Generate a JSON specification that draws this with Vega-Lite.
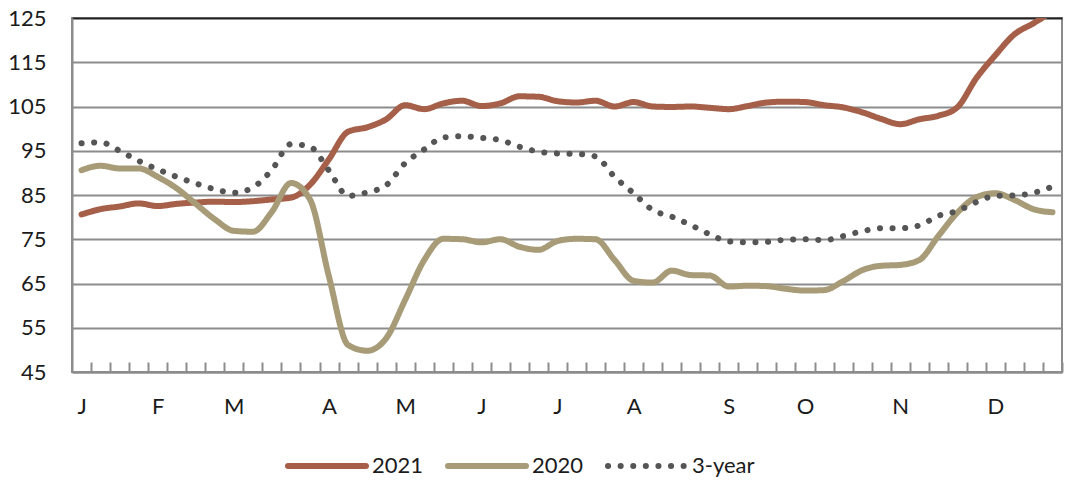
{
  "$schema": "https://vega.github.io/schema/vega-lite/v6.json",
  "width": 990,
  "height": 354,
  "autosize": "none",
  "padding": {"left": 72, "top": 18, "right": 12, "bottom": 124},
  "config": {
    "font": "Lato",
    "view": {"stroke": "#8c8c8c", "strokeWidth": 2},
    "axis": {"labelFont": "Lato", "labelFontSize": 22, "labelColor": "#1b1b1b"}
  },
  "data": {
    "values": [
      {"week": 1, "series": "2021", "value": 80.6},
      {"week": 2, "series": "2021", "value": 81.8},
      {"week": 3, "series": "2021", "value": 82.4},
      {"week": 4, "series": "2021", "value": 83.1},
      {"week": 5, "series": "2021", "value": 82.5},
      {"week": 6, "series": "2021", "value": 83.0},
      {"week": 7, "series": "2021", "value": 83.3},
      {"week": 8, "series": "2021", "value": 83.5},
      {"week": 9, "series": "2021", "value": 83.4},
      {"week": 10, "series": "2021", "value": 83.6},
      {"week": 11, "series": "2021", "value": 84.0},
      {"week": 12, "series": "2021", "value": 84.4},
      {"week": 13, "series": "2021", "value": 87.3},
      {"week": 14, "series": "2021", "value": 93.1},
      {"week": 15, "series": "2021", "value": 99.3},
      {"week": 16, "series": "2021", "value": 100.3},
      {"week": 17, "series": "2021", "value": 102.1},
      {"week": 18, "series": "2021", "value": 105.3},
      {"week": 19, "series": "2021", "value": 104.4},
      {"week": 20, "series": "2021", "value": 105.7},
      {"week": 21, "series": "2021", "value": 106.3},
      {"week": 22, "series": "2021", "value": 105.1},
      {"week": 23, "series": "2021", "value": 105.7},
      {"week": 24, "series": "2021", "value": 107.3},
      {"week": 25, "series": "2021", "value": 107.2},
      {"week": 26, "series": "2021", "value": 106.2},
      {"week": 27, "series": "2021", "value": 105.9},
      {"week": 28, "series": "2021", "value": 106.3},
      {"week": 29, "series": "2021", "value": 105.0},
      {"week": 30, "series": "2021", "value": 106.0},
      {"week": 31, "series": "2021", "value": 105.0},
      {"week": 32, "series": "2021", "value": 104.9},
      {"week": 33, "series": "2021", "value": 105.0},
      {"week": 34, "series": "2021", "value": 104.7},
      {"week": 35, "series": "2021", "value": 104.4},
      {"week": 36, "series": "2021", "value": 105.1},
      {"week": 37, "series": "2021", "value": 105.9},
      {"week": 38, "series": "2021", "value": 106.1},
      {"week": 39, "series": "2021", "value": 106.0},
      {"week": 40, "series": "2021", "value": 105.3},
      {"week": 41, "series": "2021", "value": 104.8},
      {"week": 42, "series": "2021", "value": 103.7},
      {"week": 43, "series": "2021", "value": 102.2},
      {"week": 44, "series": "2021", "value": 101.0},
      {"week": 45, "series": "2021", "value": 102.1},
      {"week": 46, "series": "2021", "value": 102.9},
      {"week": 47, "series": "2021", "value": 104.8},
      {"week": 48, "series": "2021", "value": 111.4},
      {"week": 49, "series": "2021", "value": 116.6},
      {"week": 50, "series": "2021", "value": 121.3},
      {"week": 51, "series": "2021", "value": 123.8},
      {"week": 52, "series": "2021", "value": 126.5},
      {"week": 1, "series": "2020", "value": 90.6},
      {"week": 2, "series": "2020", "value": 91.6},
      {"week": 3, "series": "2020", "value": 91.0},
      {"week": 4, "series": "2020", "value": 91.0},
      {"week": 5, "series": "2020", "value": 89.1},
      {"week": 6, "series": "2020", "value": 86.5},
      {"week": 7, "series": "2020", "value": 83.0},
      {"week": 8, "series": "2020", "value": 79.5},
      {"week": 9, "series": "2020", "value": 76.9},
      {"week": 10, "series": "2020", "value": 76.7},
      {"week": 11, "series": "2020", "value": 81.2},
      {"week": 12, "series": "2020", "value": 87.7},
      {"week": 13, "series": "2020", "value": 84.0},
      {"week": 14, "series": "2020", "value": 66.5},
      {"week": 15, "series": "2020", "value": 51.1},
      {"week": 16, "series": "2020", "value": 49.8},
      {"week": 17, "series": "2020", "value": 52.6},
      {"week": 18, "series": "2020", "value": 61.3},
      {"week": 19, "series": "2020", "value": 70.3},
      {"week": 20, "series": "2020", "value": 75.1},
      {"week": 21, "series": "2020", "value": 75.0},
      {"week": 22, "series": "2020", "value": 74.3},
      {"week": 23, "series": "2020", "value": 75.0},
      {"week": 24, "series": "2020", "value": 73.3},
      {"week": 25, "series": "2020", "value": 72.6},
      {"week": 26, "series": "2020", "value": 74.6},
      {"week": 27, "series": "2020", "value": 75.1},
      {"week": 28, "series": "2020", "value": 75.0},
      {"week": 29, "series": "2020", "value": 70.3},
      {"week": 30, "series": "2020", "value": 65.6},
      {"week": 31, "series": "2020", "value": 65.2},
      {"week": 32, "series": "2020", "value": 67.9},
      {"week": 33, "series": "2020", "value": 66.9},
      {"week": 34, "series": "2020", "value": 66.8},
      {"week": 35, "series": "2020", "value": 64.3},
      {"week": 36, "series": "2020", "value": 64.5},
      {"week": 37, "series": "2020", "value": 64.4},
      {"week": 38, "series": "2020", "value": 63.8},
      {"week": 39, "series": "2020", "value": 63.4},
      {"week": 40, "series": "2020", "value": 63.5},
      {"week": 41, "series": "2020", "value": 65.5},
      {"week": 42, "series": "2020", "value": 68.0},
      {"week": 43, "series": "2020", "value": 69.0},
      {"week": 44, "series": "2020", "value": 69.2},
      {"week": 45, "series": "2020", "value": 70.3},
      {"week": 46, "series": "2020", "value": 75.7},
      {"week": 47, "series": "2020", "value": 81.0},
      {"week": 48, "series": "2020", "value": 84.5},
      {"week": 49, "series": "2020", "value": 85.4},
      {"week": 50, "series": "2020", "value": 83.9},
      {"week": 51, "series": "2020", "value": 81.8},
      {"week": 52, "series": "2020", "value": 81.1},
      {"week": 1, "series": "3-year", "value": 96.7},
      {"week": 2, "series": "3-year", "value": 96.9},
      {"week": 3, "series": "3-year", "value": 95.0},
      {"week": 4, "series": "3-year", "value": 92.7},
      {"week": 5, "series": "3-year", "value": 90.8},
      {"week": 6, "series": "3-year", "value": 89.1},
      {"week": 7, "series": "3-year", "value": 87.6},
      {"week": 8, "series": "3-year", "value": 86.3},
      {"week": 9, "series": "3-year", "value": 85.5},
      {"week": 10, "series": "3-year", "value": 86.7},
      {"week": 11, "series": "3-year", "value": 90.7},
      {"week": 12, "series": "3-year", "value": 96.5},
      {"week": 13, "series": "3-year", "value": 95.9},
      {"week": 14, "series": "3-year", "value": 90.5},
      {"week": 15, "series": "3-year", "value": 84.8},
      {"week": 16, "series": "3-year", "value": 85.6},
      {"week": 17, "series": "3-year", "value": 87.2},
      {"week": 18, "series": "3-year", "value": 92.2},
      {"week": 19, "series": "3-year", "value": 95.3},
      {"week": 20, "series": "3-year", "value": 98.0},
      {"week": 21, "series": "3-year", "value": 98.3},
      {"week": 22, "series": "3-year", "value": 97.9},
      {"week": 23, "series": "3-year", "value": 97.4},
      {"week": 24, "series": "3-year", "value": 95.9},
      {"week": 25, "series": "3-year", "value": 94.8},
      {"week": 26, "series": "3-year", "value": 94.4},
      {"week": 27, "series": "3-year", "value": 94.3},
      {"week": 28, "series": "3-year", "value": 93.7},
      {"week": 29, "series": "3-year", "value": 89.1},
      {"week": 30, "series": "3-year", "value": 85.4},
      {"week": 31, "series": "3-year", "value": 81.6},
      {"week": 32, "series": "3-year", "value": 80.1},
      {"week": 33, "series": "3-year", "value": 78.2},
      {"week": 34, "series": "3-year", "value": 76.1},
      {"week": 35, "series": "3-year", "value": 74.5},
      {"week": 36, "series": "3-year", "value": 74.3},
      {"week": 37, "series": "3-year", "value": 74.4},
      {"week": 38, "series": "3-year", "value": 74.9},
      {"week": 39, "series": "3-year", "value": 75.0},
      {"week": 40, "series": "3-year", "value": 74.8},
      {"week": 41, "series": "3-year", "value": 75.7},
      {"week": 42, "series": "3-year", "value": 76.8},
      {"week": 43, "series": "3-year", "value": 77.5},
      {"week": 44, "series": "3-year", "value": 77.5},
      {"week": 45, "series": "3-year", "value": 78.1},
      {"week": 46, "series": "3-year", "value": 80.3},
      {"week": 47, "series": "3-year", "value": 81.4},
      {"week": 48, "series": "3-year", "value": 83.4},
      {"week": 49, "series": "3-year", "value": 84.8},
      {"week": 50, "series": "3-year", "value": 84.9},
      {"week": 51, "series": "3-year", "value": 85.5},
      {"week": 52, "series": "3-year", "value": 86.9}
    ]
  },
  "mark": {"type": "line", "interpolate": "monotone", "strokeWidth": 6, "strokeCap": "round", "clip": true},
  "encoding": {
    "x": {
      "field": "week",
      "type": "quantitative",
      "scale": {"domain": [0.5, 52.5], "nice": false, "zero": false},
      "axis": {
        "title": null,
        "values": [1, 2, 3, 4, 5, 6, 7, 8, 9, 10, 11, 12, 13, 14, 15, 16, 17, 18, 19, 20, 21, 22, 23, 24, 25, 26, 27, 28, 29, 30, 31, 32, 33, 34, 35, 36, 37, 38, 39, 40, 41, 42, 43, 44, 45, 46, 47, 48, 49, 50, 51, 52],
        "labelExpr": "indexof([1, 5, 9, 14, 18, 22, 26, 30, 35, 39, 44, 49], datum.value) >= 0 ? ['J', 'F', 'M', 'A', 'M', 'J', 'J', 'A', 'S', 'O', 'N', 'D'][indexof([1, 5, 9, 14, 18, 22, 26, 30, 35, 39, 44, 49], datum.value)] : ''",
        "tickOffset": 9.52,
        "labelOffset": -9.52,
        "tickSize": -10,
        "tickWidth": 2,
        "tickColor": "#8c8c8c",
        "domainColor": "#8c8c8c",
        "domainWidth": 2,
        "grid": false,
        "labelPadding": 34,
        "labelFlush": false,
        "labelOverlap": false,
        "labelBound": false
      }
    },
    "y": {
      "field": "value",
      "type": "quantitative",
      "scale": {"domain": [45, 125], "nice": false, "zero": false},
      "axis": {
        "title": null,
        "values": [45, 55, 65, 75, 85, 95, 105, 115, 125],
        "grid": true,
        "gridColor": {"condition": {"test": "datum.value === 125", "value": "#222222"}, "value": "#8c8c8c"},
        "gridWidth": 2,
        "ticks": false,
        "domainColor": "#8c8c8c",
        "domainWidth": 2,
        "labelPadding": 26,
        "labelFlush": false,
        "labelOverlap": false
      }
    },
    "color": {
      "field": "series",
      "type": "nominal",
      "scale": {"domain": ["2021", "2020", "3-year"], "range": ["#a6604a", "#a79b78", "#555555"]},
      "legend": {
        "title": null,
        "orient": "none",
        "legendX": 213,
        "legendY": 406,
        "direction": "horizontal",
        "symbolType": "stroke",
        "symbolSize": 6084,
        "symbolStrokeWidth": 6,
        "labelFontSize": 22,
        "labelFont": "Lato",
        "labelColor": "#1b1b1b",
        "labelOffset": 3,
        "columnPadding": 12,
        "padding": 0,
        "encode": {"symbols": {"update": {"strokeCap": {"value": "round"}}}}
      }
    },
    "strokeDash": {
      "field": "series",
      "type": "nominal",
      "scale": {"domain": ["2021", "2020", "3-year"], "range": [[1, 0], [1, 0], [0.1, 12.5]]},
      "legend": {
        "title": null,
        "orient": "none",
        "legendX": 213,
        "legendY": 406,
        "direction": "horizontal",
        "symbolType": "stroke",
        "symbolSize": 6084,
        "symbolStrokeWidth": 6,
        "labelFontSize": 22,
        "labelFont": "Lato",
        "labelColor": "#1b1b1b",
        "labelOffset": 3,
        "columnPadding": 12,
        "padding": 0,
        "encode": {"symbols": {"update": {"strokeCap": {"value": "round"}}}}
      }
    }
  }
}
